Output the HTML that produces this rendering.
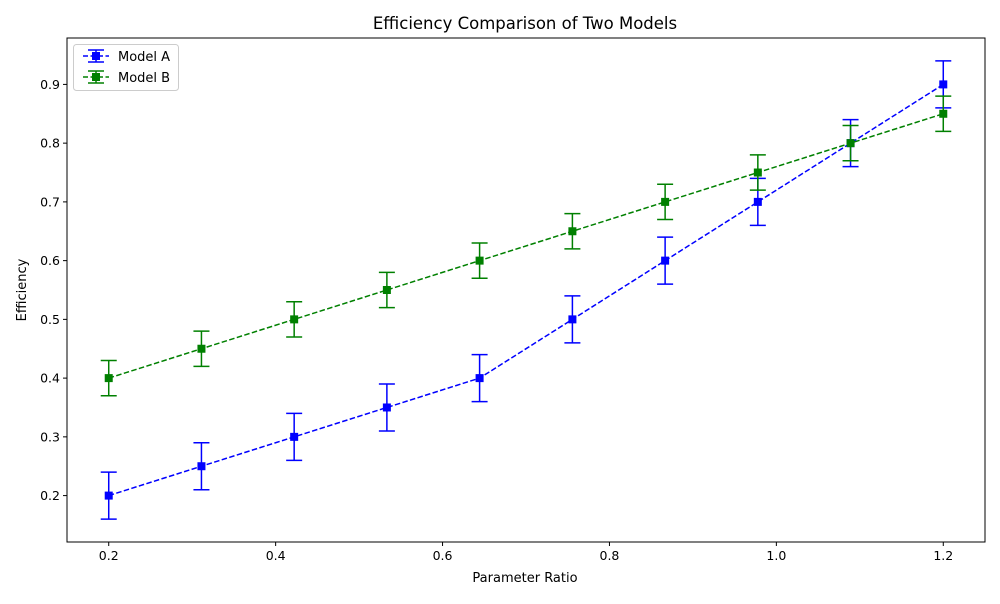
<!DOCTYPE html>
<html><head><meta charset="utf-8"><style>
body{margin:0;background:#fff;font-family:"DejaVu Sans","Liberation Sans",sans-serif;}
svg text{font-family:"DejaVu Sans","Liberation Sans",sans-serif;}
</style></head><body>
<svg id="chart" width="1000" height="600" viewBox="0 0 1000 600" xmlns="http://www.w3.org/2000/svg">
<rect width="1000" height="600" fill="#fff"/>
<text x="525" y="29" text-anchor="middle" font-size="16.5">Efficiency Comparison of Two Models</text>
<g id="grid"></g>
<g id="series"></g>
<rect x="67" y="38" width="918" height="504" fill="none" stroke="#000" stroke-width="1"/>
<text x="525" y="582" text-anchor="middle" font-size="13">Parameter Ratio</text>
<text transform="translate(26,290) rotate(-90)" text-anchor="middle" font-size="13">Efficiency</text>
<g>
<rect x="73.5" y="44.5" width="105" height="46" rx="3" fill="#fff" stroke="#ccc"/>
<g>
<line x1="83" y1="56" x2="109" y2="56" stroke="blue" stroke-width="1.5" stroke-dasharray="5,2.5"/>
<line x1="96" y1="50" x2="96" y2="62" stroke="blue" stroke-width="1.5"/>
<line x1="88" y1="50" x2="104" y2="50" stroke="blue" stroke-width="1.5"/>
<line x1="88" y1="62" x2="104" y2="62" stroke="blue" stroke-width="1.5"/>
<rect x="92" y="52" width="8" height="8" fill="blue"/>
<text x="118" y="61" font-size="13">Model A</text></g>
<g>
<line x1="83" y1="77" x2="109" y2="77" stroke="green" stroke-width="1.5" stroke-dasharray="5,2.5"/>
<line x1="96" y1="71" x2="96" y2="83" stroke="green" stroke-width="1.5"/>
<line x1="88" y1="71" x2="104" y2="71" stroke="green" stroke-width="1.5"/>
<line x1="88" y1="83" x2="104" y2="83" stroke="green" stroke-width="1.5"/>
<rect x="92" y="73" width="8" height="8" fill="green"/>
<text x="118" y="82" font-size="13">Model B</text></g>
</g>
</svg>
<script>
const xValues=[0.2,0.3111,0.4222,0.5333,0.6444,0.7556,0.8667,0.9778,1.0889,1.2];
const modelA=[0.2,0.25,0.3,0.35,0.4,0.5,0.6,0.7,0.8,0.9];
const modelAErr=[0.04,0.04,0.04,0.04,0.04,0.04,0.04,0.04,0.04,0.04];
const modelB=[0.4,0.45,0.5,0.55,0.6,0.65,0.7,0.75,0.8,0.85];
const modelBErr=[0.03,0.03,0.03,0.03,0.03,0.03,0.03,0.03,0.03,0.03];
const xTicks=[0.2,0.4,0.6,0.8,1.0,1.2];
const xTickLabels=["0.2","0.4","0.6","0.8","1.0","1.2"];
const yTicks=[0.2,0.3,0.4,0.5,0.6,0.7,0.8,0.9];
const yTickLabels=["0.2","0.3","0.4","0.5","0.6","0.7","0.8","0.9"];

const NS="http://www.w3.org/2000/svg";
const L=67,R=985,T=38,B=542;
const allX=xValues, lo=Math.min(...modelA.map((v,i)=>v-modelAErr[i]),...modelB.map((v,i)=>v-modelBErr[i]));
const hi=Math.max(...modelA.map((v,i)=>v+modelAErr[i]),...modelB.map((v,i)=>v+modelBErr[i]));
const xmn=Math.min(...allX),xmx=Math.max(...allX);
const x0=xmn-0.05*(xmx-xmn),x1=xmx+0.05*(xmx-xmn);
const y0=lo-0.05*(hi-lo),y1=hi+0.05*(hi-lo);
const sx=v=>L+(v-x0)/(x1-x0)*(R-L);
const sy=v=>B-(v-y0)/(y1-y0)*(B-T);
function mk(tag,attrs,parent){const e=document.createElementNS(NS,tag);for(const k in attrs)e.setAttribute(k,attrs[k]);parent.appendChild(e);return e;}
const grid=document.getElementById('grid');
xTicks.forEach((t,i)=>{const g=mk('g',{},grid);


mk('line',{x1:sx(t),x2:sx(t),y1:B,y2:B+4,stroke:'#000'},g);
const tx=mk('text',{x:sx(t),y:B+18,'text-anchor':'middle','font-size':12.5},g);tx.textContent=xTickLabels[i];});
yTicks.forEach((t,i)=>{const g=mk('g',{},grid);


mk('line',{x1:L-4,x2:L,y1:sy(t),y2:sy(t),stroke:'#000'},g);
const tx=mk('text',{x:L-7,y:sy(t)+4.5,'text-anchor':'end','font-size':12.5},g);tx.textContent=yTickLabels[i];});
const ser=document.getElementById('series');
function draw(vals,errs,color,name){
const g=mk('g',{},ser);


mk('polyline',{points:xValues.map((x,i)=>sx(x)+','+sy(vals[i])).join(' '),fill:'none',stroke:color,'stroke-width':1.5,'stroke-dasharray':'5.5,2.4'},g);
xValues.forEach((x,i)=>{const cx=sx(x),ya=sy(vals[i]+errs[i]),yb=sy(vals[i]-errs[i]);
const eg=mk('g',{},g);


mk('line',{x1:cx,x2:cx,y1:ya,y2:yb,stroke:color,'stroke-width':1.5},eg);
mk('line',{x1:cx-8,x2:cx+8,y1:ya,y2:ya,stroke:color,'stroke-width':1.5},eg);
mk('line',{x1:cx-8,x2:cx+8,y1:yb,y2:yb,stroke:color,'stroke-width':1.5},eg);
mk('rect',{x:cx-4,y:sy(vals[i])-4,width:8,height:8,fill:color},eg);});
}
draw(modelA,modelAErr,'blue','model-a-series');
draw(modelB,modelBErr,'green','model-b-series');
</script>
</body></html>
